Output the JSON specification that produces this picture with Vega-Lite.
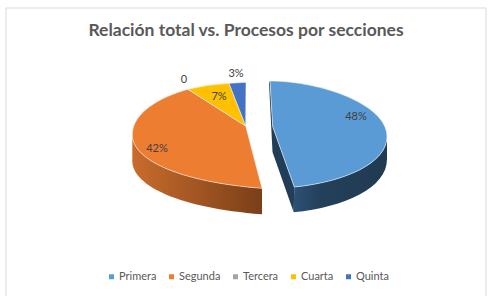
{
"$schema":"https://vega.github.io/schema/vega-lite/v6.json",
"width":496,"height":308,"padding":0,"autosize":"none",
"background":"white",
"view":{"stroke":null},
"title":{"text":"Relación total vs. Procesos por secciones","font":"Lato","fontSize":17.5,"fontWeight":"bold","color":"#595959","anchor":"middle","frame":"group","dy":43,"dx":-2},
"data":{"values":[
{"seccion":"Primera","porcentaje":48,"etiqueta":"48%"},
{"seccion":"Segunda","porcentaje":42,"etiqueta":"42%"},
{"seccion":"Tercera","porcentaje":0,"etiqueta":"0"},
{"seccion":"Cuarta","porcentaje":7,"etiqueta":"7%"},
{"seccion":"Quinta","porcentaje":3,"etiqueta":"3%"}
]},
"layer":[
{"data":{"values":[{"marco":"borde"}]},
 "mark":{"type":"point","filled":false,"size":4,"opacity":1,"stroke":"#d9d9d9","strokeWidth":1,"shape":"M-242,142 L-242,-146 L238,-146 L238,142"}},
{"transform":[{"filter":"datum.seccion==='Segunda'"}],
 "mark":{"type":"point","filled":true,"size":4,"opacity":1,"shape":"M-115.7,-19 C-115.5,6 -68,28 14,34.3 L14,60.3 C-68,54 -115.5,32 -115.7,7 Z",
  "fill":{"gradient":"linear","x1":0,"x2":1,"y1":0,"y2":0,"stops":[{"offset":0,"color":"#c96c2c"},{"offset":1,"color":"#7a3f18"}]}}},
{"transform":[{"filter":"datum.seccion==='Primera'"}],
 "mark":{"type":"point","filled":true,"size":4,"opacity":1,"shape":"M139,-17.3 C139,9 97,28 46.3,33 L45.7,58.3 C97,53 139,34 139,5 Z",
  "fill":{"gradient":"linear","x1":0,"x2":1,"y1":0,"y2":0,"stops":[{"offset":0,"color":"#2d5075"},{"offset":0.3,"color":"#23405a"},{"offset":1,"color":"#213a52"}]}}},
{"transform":[{"filter":"datum.seccion==='Primera'"}],
 "mark":{"type":"point","filled":true,"size":4,"opacity":1,"color":"#223d57","shape":"M22,-73 L24.7,-27.3 L46.3,33 L45.7,58.3 L24.5,-2 L21,-71 Z"}},
{"mark":{"type":"point","filled":true,"size":4,"opacity":1,"stroke":"#f2f2f2","strokeWidth":0.6},
 "encoding":{
  "color":{"field":"seccion","type":"nominal","scale":{"domain":["Primera","Segunda","Tercera","Cuarta","Quinta"],"range":["#5b9bd5","#ed7d31","#a5a5a5","#ffc000","#4472c4"]},
   "legend":{"title":null,"orient":"none","legendX":106,"legendY":271,"direction":"horizontal","columns":5,"symbolType":"square","symbolSize":25,"symbolStrokeWidth":0,"labelFont":"Lato","labelFontSize":11,"labelColor":"#595959","labelOffset":2,"columnPadding":9}},
  "shape":{"field":"etiqueta","type":"nominal","legend":null,"scale":{"domain":["48%","42%","0","7%","3%"],"range":[
   "M24.7,-27.3 L22,-73 C72,-73 139,-50 139,-17.3 C139,9 97,28 46.3,33 Z",
   "M-2.3,-28 L-60,-64.7 C-88,-57 -116,-41 -115.7,-19 C-115.5,6 -68,28 14,34.3 Z",
   "M0,0 Z",
   "M-2.3,-28 L-60,-64.7 Q-40,-69.5 -19,-70.7 Z",
   "M-2.3,-28 L-19,-70.7 L-2,-71.7 Z"]}}
 }},
{"transform":[{"filter":"datum.seccion==='Primera'"}],"mark":{"type":"text","font":"Lato","fontSize":11,"color":"#404040","dx":108,"dy":-37},"encoding":{"text":{"field":"etiqueta"}}},
{"transform":[{"filter":"datum.seccion==='Segunda'"}],"mark":{"type":"text","font":"Lato","fontSize":11,"color":"#404040","dx":-91,"dy":-5},"encoding":{"text":{"field":"etiqueta"}}},
{"transform":[{"filter":"datum.seccion==='Tercera'"}],"mark":{"type":"text","font":"Lato","fontSize":11,"color":"#404040","dx":-64,"dy":-74},"encoding":{"text":{"field":"etiqueta"}}},
{"transform":[{"filter":"datum.seccion==='Cuarta'"}],"mark":{"type":"text","font":"Lato","fontSize":11,"color":"#404040","dx":-29,"dy":-57},"encoding":{"text":{"field":"etiqueta"}}},
{"transform":[{"filter":"datum.seccion==='Quinta'"}],"mark":{"type":"text","font":"Lato","fontSize":11,"color":"#404040","dx":-12,"dy":-80},"encoding":{"text":{"field":"etiqueta"}}}
]
}
